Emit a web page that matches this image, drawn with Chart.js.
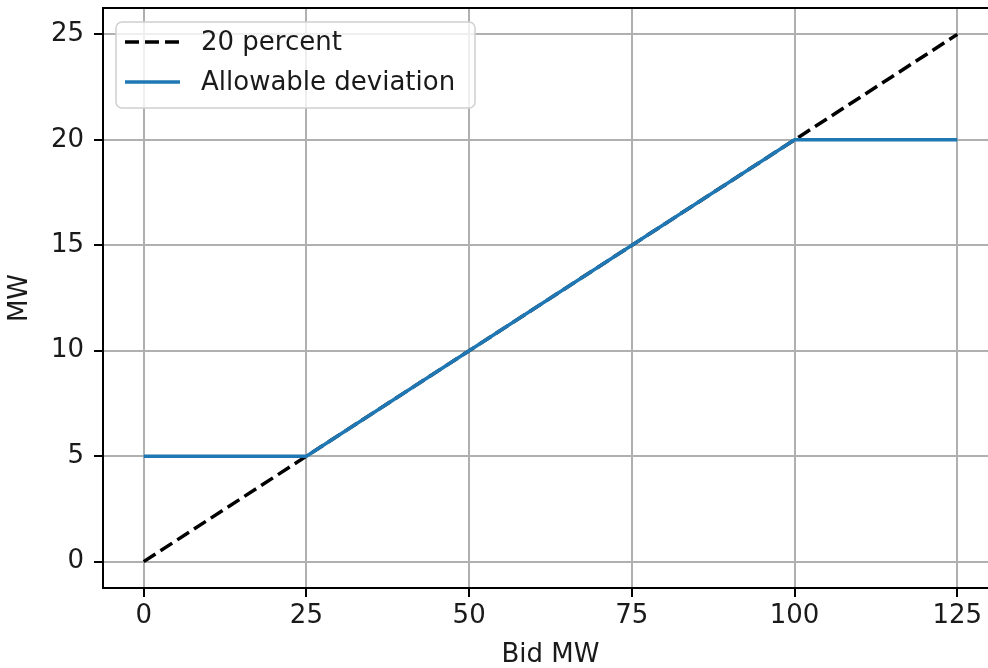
<!DOCTYPE html>
<html>
<head>
<meta charset="utf-8">
<script src="https://cdn.jsdelivr.net/npm/chart.js@4"></script>
<style>
  html, body { margin: 0; padding: 0; background: #fff; overflow: hidden; }
  #wrap { width: 1000px; height: 668px; }
</style>
</head>
<body>
<div id="wrap"><canvas id="chart" width="1000" height="668"></canvas></div>
<script>
// ── Allowable deviation vs bid size ─────────────────────────

const pctBid = [0, 125];
const pctMW = [0, 25];
const devBid = [0, 25, 100, 125];
const devMW = [5, 5, 20, 20];
const xTicks = [0, 25, 50, 75, 100, 125];
const yTicks = [0, 5, 10, 15, 20, 25];
const seriesLabels = ["20 percent", "Allowable deviation"];

const FONT = "'DejaVu Sans', sans-serif";
const TEXT = "#1a1a1a";
const BLUE = "#1f77b4";

const toPoints = (xs, ys) => xs.map((x, i) => ({ x, y: ys[i] }));

// top spine (right one sits past the edge of the page)
const frame = {
  id: "frame",
  afterDatasetsDraw(chart) {
    const { ctx, chartArea: a } = chart;
    ctx.save();
    ctx.strokeStyle = "#000";
    ctx.lineWidth = 2;
    ctx.beginPath();
    ctx.moveTo(a.left - 1, a.top);
    ctx.lineTo(a.right, a.top);
    ctx.stroke();
    ctx.restore();
  },
};

// matplotlib-ish legend box in the upper left corner
const boxLegend = {
  id: "boxLegend",
  afterDraw(chart) {
    const { ctx, chartArea: a } = chart;
    const x = a.left + 13, y = a.top + 14, w = 359, h = 86, r = 6;
    ctx.save();
    ctx.beginPath();
    ctx.roundRect(x, y, w, h, r);
    ctx.fillStyle = "rgba(255,255,255,0.8)";
    ctx.fill();
    ctx.strokeStyle = "#d0d0d0";
    ctx.lineWidth = 1.5;
    ctx.stroke();

    const rows = [a.top + 34, a.top + 74];
    chart.data.datasets.forEach((ds, i) => {
      const ly = rows[i];
      ctx.beginPath();
      ctx.setLineDash(ds.borderDash || []);
      ctx.strokeStyle = ds.borderColor;
      ctx.lineWidth = ds.borderWidth;
      ctx.moveTo(x + 9, ly);
      ctx.lineTo(x + 64, ly);
      ctx.stroke();
      ctx.setLineDash([]);
      ctx.fillStyle = TEXT;
      ctx.font = `26px ${FONT}`;
      ctx.textBaseline = "middle";
      ctx.fillText(ds.label, x + 85, ly + 1);
    });
    ctx.restore();
  },
};

const tickFont = { family: FONT, size: 26 };
const titleFont = { family: FONT, size: 26, lineHeight: 1.0 };

new Chart(document.getElementById("chart"), {
  type: "line",
  data: {
    datasets: [
      {
        label: seriesLabels[0],
        data: toPoints(pctBid, pctMW),
        borderColor: "#000",
        borderWidth: 3.5,
        borderDash: [14, 6],
        pointRadius: 0,
        order: 1,
      },
      {
        label: seriesLabels[1],
        data: toPoints(devBid, devMW),
        borderColor: BLUE,
        borderWidth: 3.5,
        pointRadius: 0,
        order: 0,
      },
    ],
  },
  options: {
    responsive: false,
    animation: false,
    layout: { padding: { top: 8, right: 2, left: 0, bottom: 0 } },
    plugins: { legend: { display: false }, tooltip: { enabled: false } },
    scales: {
      x: {
        type: "linear",
        min: -6.25,
        max: 131.25,
        afterBuildTicks: (s) => { s.ticks = xTicks.map((v) => ({ value: v })); },
        afterFit: (s) => { s.height = 80; s.paddingLeft = 0; s.paddingRight = 0; },
        grid: { color: "#b0b0b0", lineWidth: 2, tickLength: 9, tickColor: "#000", tickWidth: 2 },
        border: { display: true, color: "#000", width: 2 },
        ticks: { color: TEXT, font: tickFont, padding: 4, maxRotation: 0 },
        title: { display: true, text: "Bid MW", color: TEXT, font: titleFont, padding: 0 },
      },
      y: {
        type: "linear",
        min: -1.25,
        max: 26.25,
        afterBuildTicks: (s) => { s.ticks = yTicks.map((v) => ({ value: v })); },
        afterFit: (s) => { s.width = 103; s.paddingTop = 0; s.paddingBottom = 0; },
        grid: { color: "#b0b0b0", lineWidth: 2, tickLength: 9, tickColor: "#000", tickWidth: 2 },
        border: { display: true, color: "#000", width: 2 },
        ticks: { color: TEXT, font: tickFont, padding: 10 },
        title: { display: true, text: "MW", color: TEXT, font: titleFont, padding: 7 },
      },
    },
  },
  plugins: [frame, boxLegend],
});
</script>
</body>
</html>
